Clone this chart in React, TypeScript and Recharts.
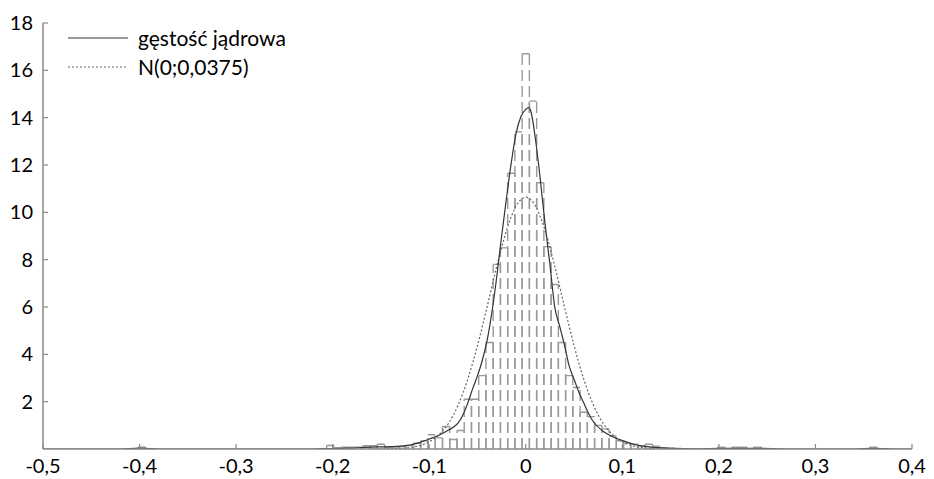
import React from 'react';
import {
  ComposedChart,
  Line,
  XAxis,
  YAxis,
  ReferenceArea,
  Legend,
} from 'recharts';

// histogram: bin centres and density heights (bin width 0,0075)
const BIN_WIDTH = 0.0075;
const binCenters = [
  -0.3975,
  -0.2025, -0.195, -0.1875, -0.18, -0.1725, -0.165, -0.1575, -0.15, -0.1425, -0.135,
  -0.1275, -0.12, -0.1125, -0.105, -0.0975, -0.09, -0.0825, -0.075, -0.0675, -0.06,
  -0.0525, -0.045, -0.0375, -0.03, -0.0225, -0.015, -0.0075, 0, 0.0075, 0.015,
  0.0225, 0.03, 0.0375, 0.045, 0.0525, 0.06, 0.0675, 0.075, 0.0825, 0.09,
  0.0975, 0.105, 0.1125, 0.12, 0.1275, 0.135, 0.1425, 0.15, 0.1575,
  0.2025, 0.2175, 0.225, 0.24, 0.36,
];
const binDensity = [
  0.08,
  0.15, 0.04, 0.08, 0.08, 0.08, 0.14, 0.14, 0.2, 0.06, 0.08,
  0.1, 0.15, 0.24, 0.35, 0.6, 0.47, 0.95, 0.4, 0.78, 2.1,
  2.1, 3.1, 4.5, 7.8, 8.5, 11.65, 13.4, 16.7, 14.7, 11.25,
  8.55, 6.95, 4.5, 3.1, 2.6, 1.55, 1.37, 1.0, 0.85, 0.55,
  0.35, 0.25, 0.2, 0.12, 0.2, 0.12, 0.05, 0.03, 0.02,
  0.08, 0.08, 0.08, 0.08, 0.08,
];

// kernel density estimate
const kernelX = [
  -0.5, -0.42, -0.4, -0.38, -0.22, -0.2, -0.19, -0.18, -0.17, -0.16, -0.15, -0.14,
  -0.13, -0.12, -0.11, -0.1, -0.09, -0.08, -0.07, -0.065, -0.06, -0.055, -0.05,
  -0.045, -0.04, -0.035, -0.03, -0.025, -0.02, -0.015, -0.01, -0.005, 0, 0.003,
  0.005, 0.01, 0.015, 0.02, 0.025, 0.03, 0.035, 0.04, 0.045, 0.05, 0.055, 0.06,
  0.065, 0.07, 0.08, 0.09, 0.1, 0.11, 0.12, 0.13, 0.14, 0.15, 0.16, 0.18, 0.2,
  0.22, 0.24, 0.27, 0.34, 0.36, 0.38, 0.4,
];
const kernelY = [
  0, 0, 0.04, 0, 0, 0.02, 0.03, 0.04, 0.06, 0.08, 0.09, 0.1,
  0.12, 0.17, 0.27, 0.42, 0.58, 0.8, 1.1, 1.45, 1.95, 2.55, 3.1,
  3.75, 4.6, 5.8, 7.3, 9.0, 10.6, 12.1, 13.35, 14.05, 14.35, 14.43,
  14.3, 13.1, 11.4, 9.5, 7.8, 6.0, 5.2, 4.4, 3.5, 2.95, 2.4, 1.95,
  1.5, 1.15, 0.75, 0.52, 0.36, 0.22, 0.13, 0.08, 0.05, 0.03, 0.015, 0.01, 0.03,
  0.03, 0.03, 0, 0, 0.03, 0, 0,
];

// normal density N(0;0,0375)
const normalX = [
  -0.16, -0.15, -0.14, -0.13, -0.12, -0.11, -0.1, -0.09, -0.08, -0.07, -0.06, -0.05,
  -0.04, -0.03, -0.02, -0.01, 0, 0.01, 0.02, 0.03, 0.04, 0.05, 0.06, 0.07, 0.08,
  0.09, 0.1, 0.11, 0.12, 0.13, 0.14, 0.15, 0.16,
];
const normalY = [
  0.001, 0.003, 0.01, 0.026, 0.064, 0.144, 0.3, 0.6, 1.09, 1.86, 2.96, 4.37,
  6.02, 7.73, 9.23, 10.27, 10.64, 10.27, 9.23, 7.73, 6.02, 4.37, 2.96, 1.86, 1.09,
  0.6, 0.3, 0.144, 0.064, 0.026, 0.01, 0.003, 0.001,
];

const xTicks = [-0.5, -0.4, -0.3, -0.2, -0.1, 0, 0.1, 0.2, 0.3, 0.4];
const yTicks = [2, 4, 6, 8, 10, 12, 14, 16, 18];

const series = [
  { name: 'gęstość jądrowa', color: '#333', dash: undefined as string | undefined },
  { name: 'N(0;0,0375)', color: '#666', dash: '2 2' },
];

const FONT = 'Lato, "Open Sans", sans-serif';

const kernelData = kernelX.map((x, i) => ({ x, y: kernelY[i] }));
const normalData = normalX.map((x, i) => ({ x, y: normalY[i] }));

const fmt = (v: number) => (v === 0 ? '0' : String(v).replace('.', ','));

// dashed outline of one histogram bar; verticals start at the base so dashes line up
const BinShape = (props: any) => {
  const { x, y, width, height } = props;
  if (x == null || y == null) return null;
  const bottom = y + height;
  const right = x + width;
  return (
    <path
      d={`M${x},${bottom}V${y}M${right},${bottom}V${y}M${x},${y}H${right}`}
      fill="none"
      stroke="#999"
      strokeWidth={1.4}
      strokeDasharray="11 5"
    />
  );
};

const LegendBox = () => (
  <div style={{ fontFamily: FONT, fontSize: 21, color: '#000' }}>
    {series.map((s) => (
      <div key={s.name} style={{ display: 'flex', alignItems: 'center', height: 29 }}>
        <svg width={70} height={10}>
          <line
            x1={0}
            x2={60}
            y1={5}
            y2={5}
            stroke={s.color}
            strokeWidth={1}
            strokeDasharray={s.dash}
          />
        </svg>
        <span>{s.name}</span>
      </div>
    ))}
  </div>
);

export default function App() {
  return (
    <div style={{ position: 'absolute', left: 0, top: 0, background: '#fff' }}>
      <ComposedChart
        width={934}
        height={479}
        margin={{ top: 23, right: 22, left: 0, bottom: 0 }}
      >
        <XAxis
          type="number"
          dataKey="x"
          domain={[-0.5, 0.4]}
          ticks={xTicks}
          interval={0}
          allowDataOverflow
          tickFormatter={fmt}
          stroke="#888"
          axisLine={{ stroke: '#888', strokeWidth: 1.5 }}
          tickLine={{ stroke: '#888', strokeWidth: 1.2 }}
          tickSize={-5}
          tickMargin={15}
          height={30}
          tick={{ fill: '#000', fontSize: 20, fontFamily: FONT }}
        />
        <YAxis
          type="number"
          domain={[0, 18]}
          ticks={yTicks}
          interval={0}
          allowDataOverflow
          stroke="#888"
          axisLine={{ stroke: '#888', strokeWidth: 1.5 }}
          tickLine={{ stroke: '#888', strokeWidth: 1.2 }}
          tickSize={-5}
          tickMargin={15}
          width={43}
          tick={{ fill: '#000', fontSize: 20, fontFamily: FONT }}
        />
        {binCenters.map((c, i) => (
          <ReferenceArea
            key={c}
            x1={c - BIN_WIDTH / 2}
            x2={c + BIN_WIDTH / 2}
            y1={0}
            y2={binDensity[i]}
            shape={BinShape}
          />
        ))}
        <Line
          data={normalData}
          dataKey="y"
          name={series[1].name}
          type="monotone"
          stroke={series[1].color}
          strokeWidth={1.2}
          strokeDasharray={series[1].dash}
          dot={false}
          isAnimationActive={false}
        />
        <Line
          data={kernelData}
          dataKey="y"
          name={series[0].name}
          type="monotone"
          stroke={series[0].color}
          strokeWidth={1.2}
          dot={false}
          isAnimationActive={false}
        />
        <Legend
          layout="vertical"
          verticalAlign="middle"
          align="center"
          content={LegendBox}
          wrapperStyle={{ top: 23, left: 68, width: 320 }}
        />
      </ComposedChart>
    </div>
  );
}
